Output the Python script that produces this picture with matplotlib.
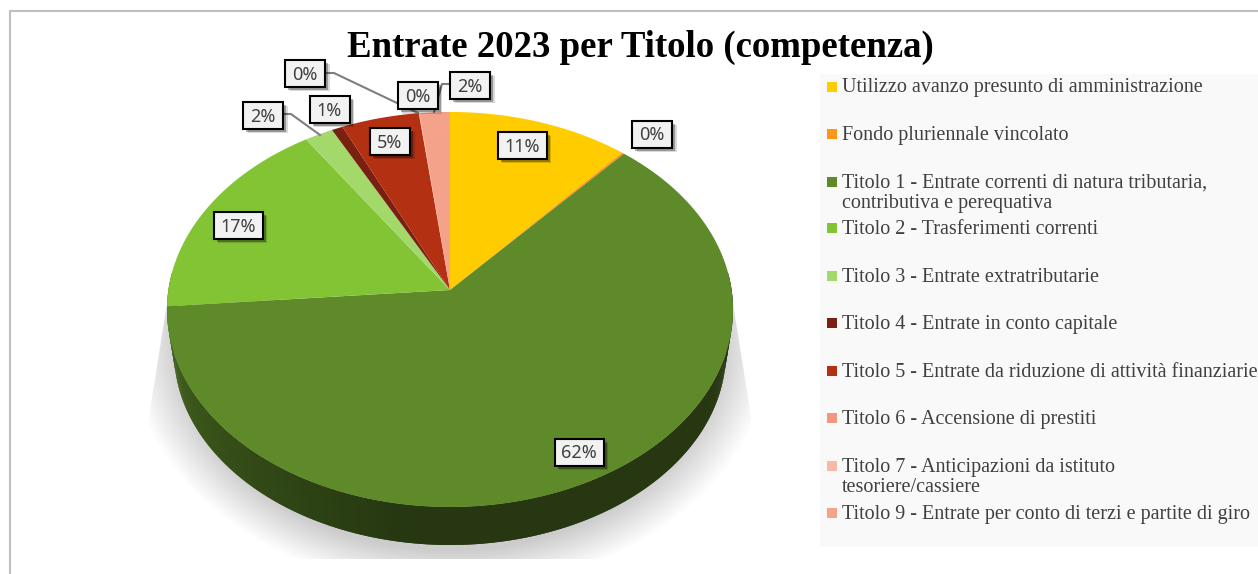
import numpy as np
import matplotlib
matplotlib.use("Agg")
import matplotlib.pyplot as plt
import matplotlib.patheffects as pe
from matplotlib.collections import PolyCollection
from matplotlib.colors import to_rgb
from matplotlib.patches import Rectangle

categories = [
    "Utilizzo avanzo presunto di amministrazione",
    "Fondo pluriennale vincolato",
    "Titolo 1 - Entrate correnti di natura tributaria,\ncontributiva e perequativa",
    "Titolo 2 - Trasferimenti correnti",
    "Titolo 3 - Entrate extratributarie",
    "Titolo 4 - Entrate in conto capitale",
    "Titolo 5 - Entrate da riduzione di attività finanziarie",
    "Titolo 6 - Accensione di prestiti",
    "Titolo 7 - Anticipazioni da istituto\ntesoriere/cassiere",
    "Titolo 9 - Entrate per conto di terzi e partite di giro",
]
shares = [11.4, 0.15, 62.2, 17.0, 1.8, 0.7, 4.9, 0.02, 0.02, 1.9]
colors = ["#FFCC00", "#FF9519", "#5E8A2A", "#82C434", "#A2D96A",
          "#7A2010", "#B33012", "#F49580", "#F9B9A8", "#F4A28A"]

# layout, in image pixels
label_xy = [(522, 145), (652, 134), (579, 452), (238, 225), (263, 115),
            (329.5, 109), (390, 141), (417.5, 95.5), (305, 73), (470, 85)]
legend_y = [92, 140, 208, 234, 282, 329, 377, 424, 492, 519]
marker_y = [86.7, 134, 181.7, 228, 276, 323, 371, 418, 466, 513]
leaders = [[(283, 114), (291, 114), (320, 135)],
           [(325, 73), (334, 73), (418, 113)],
           [(450, 84), (442, 84), (434, 112)]]

CX, CY = 450, 290
A, B, K = 281.6, 195.6, 0.0987   # perspective of the disc
WALL_S, WALL_DY = 0.975, 43.4


def rim(theta):
    # theta in degrees, clockwise from 12 o'clock
    t = np.radians(theta)
    w = 1 + K * np.cos(t)
    return CX + A * np.sin(t) / w, CY - B * np.cos(t) / w


fig = plt.figure(figsize=(12.58, 5.74), dpi=100, facecolor="white")
ax = fig.add_axes([0, 0, 1, 1])

# soft shadow under the disc
yy, xx = np.mgrid[0:574, 0:1258] + 0.5
r = np.sqrt(((xx - CX) / 322) ** 2 + ((yy - 340) / 250) ** 2)
shadow = np.clip((1 - r) / 0.16, 0, 1)
edge = 283 + (yy - 300) * 19 / 120
shadow = shadow * np.clip(edge - np.abs(xx - CX), 0, 1)
shadow[(yy < 300) | (yy > 559)] = 0
rgba = np.zeros((574, 1258, 4))
rgba[..., :3] = 0.80
rgba[..., 3] = shadow
ax.imshow(rgba, extent=(0, 1258, 574, 0), aspect="auto", zorder=1)

# side wall (front part only) then top face, one wedge at a time
total = sum(shares)
bounds = np.concatenate([[0], np.cumsum(shares) / total * 360])
for i, col in enumerate(colors):
    steps = np.linspace(bounds[i], bounds[i + 1], max(3, int(bounds[i + 1] - bounds[i]) * 2))
    x, y = rim(steps)
    xb = CX + WALL_S * (x - CX)
    yb = CY + WALL_S * (y - CY) + WALL_DY
    quads, fc = [], []
    base = np.array(to_rgb(col))
    for j in range(len(steps) - 1):
        mid = 0.5 * (steps[j] + steps[j + 1])
        if mid < 85 or mid > 275:
            continue
        # each quad runs on over the next step so no seams show
        e = min(j + 2, len(steps) - 1)
        quads.append([(x[j], y[j]), (x[e], y[e]), (xb[e], yb[e]), (xb[j], yb[j])])
        fc.append(base * (0.40 + 0.32 * np.clip((mid - 188) / 77, 0, 1)))
    if quads:
        ax.add_collection(PolyCollection(quads, facecolors=fc, edgecolors="none", zorder=2))
for i, col in enumerate(colors):
    steps = np.linspace(bounds[i], bounds[i + 1], max(3, int(bounds[i + 1] - bounds[i]) * 2))
    x, y = rim(steps)
    pts = np.column_stack([np.r_[CX, x], np.r_[CY, y]])
    ax.add_patch(plt.Polygon(pts, closed=True, facecolor=col, edgecolor="none", zorder=3))

for pts in leaders:
    ax.plot(*zip(*pts), color="#7f7f7f", lw=1.5, zorder=4)

# percentage labels
for v, (lx, ly) in zip(shares, label_xy):
    txt = f"{v / total * 100:.0f}%"
    w = 40 if len(txt) == 2 else 49
    box = Rectangle((lx - w / 2, ly - 13.5), w, 27, facecolor="#f2f2f2", edgecolor="black",
                    linewidth=1.5, zorder=6)
    box.set_path_effects([
        pe.SimplePatchShadow(offset=(3.5, -3.5), shadow_rgbFace="k", alpha=0.15),
        pe.SimplePatchShadow(offset=(2.5, -2.5), shadow_rgbFace="k", alpha=0.3),
        pe.Normal()])
    ax.add_patch(box)
    ax.text(lx, ly + 6.5, txt, ha="center", va="baseline", fontsize=13, family="Noto Sans",
            color="#404040", zorder=7)

# legend panel
ax.add_patch(Rectangle((820, 74), 438, 473, facecolor="#f9f9f9", edgecolor="none", zorder=1.5))
for name, col, ly, my in zip(categories, colors, legend_y, marker_y):
    ax.add_patch(Rectangle((827, my - 5), 10, 10, facecolor=col, edgecolor="none", zorder=5))
    ax.text(842, ly, name, ha="left", va="baseline", fontsize=14.5, family="Liberation Serif",
            color="#404040", linespacing=1.08, zorder=5)

ax.text(640, 57, "Entrate 2023 per Titolo (competenza)", ha="center", va="baseline",
        fontsize=26.5, fontweight="bold", family="Liberation Serif", color="black", zorder=5)

# chart frame
ax.plot([1258, 10, 10], [11, 11, 574], color="#bfbfbf", lw=1.5, zorder=5)

ax.set_xlim(0, 1258)
ax.set_ylim(574, 0)
ax.axis("off")
fig.savefig("out.png", dpi=100)
